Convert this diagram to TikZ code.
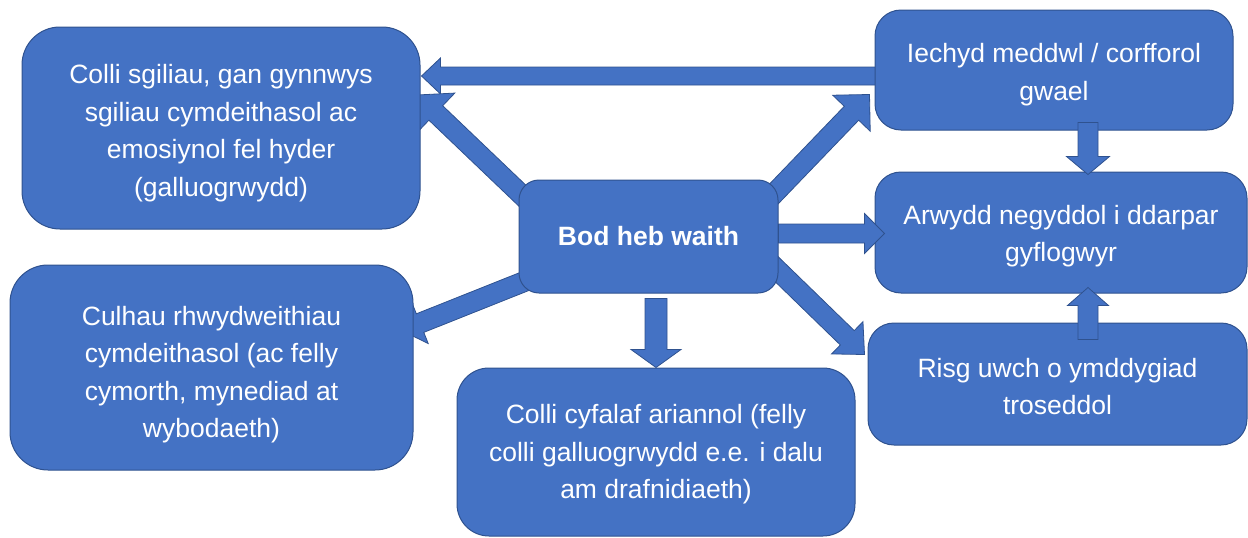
\documentclass[tikz,border=0pt]{standalone}
\usepackage{fontspec}
\setmainfont{Liberation Sans}
\usetikzlibrary{calc}

\definecolor{boxblue}{HTML}{4472C4}
\definecolor{boxedge}{HTML}{2F528F}

\pgfdeclarelayer{bg}
\pgfsetlayers{bg,main}

\tikzset{
  box/.style={draw=boxedge, line width=1pt, fill=boxblue, rounded corners=#1,
    text=white, align=center, inner sep=0pt,
    font=\fontsize{26.5}{37.5}\selectfont},
  box/.default=38pt,
  blockarrow/.style={draw=boxedge, line width=0.8pt, fill=boxblue, line join=miter}
}

% strut on the first line, pushes the text down
\newcommand{\dn}[1]{\rule{0pt}{#1pt}}

% block arrow: from, to, shaft, head width, head length
\newcommand{\bigarrow}[5]{%
  \pgfmathsetmacro{\hs}{#3/2}
  \pgfmathsetmacro{\hw}{#4/2}
  \path ($(#2)!#5pt!(#1)$) coordinate (hb);
  \draw[blockarrow] ($(#1)!\hs pt!90:(#2)$) -- ($(hb)!\hs pt!90:(#2)$)
    -- ($(hb)!\hw pt!90:(#2)$) -- (#2) -- ($(hb)!\hw pt!-90:(#2)$)
    -- ($(hb)!\hs pt!-90:(#2)$) -- ($(#1)!\hs pt!-90:(#2)$) -- cycle;
}

\begin{document}
\begin{tikzpicture}[x=1pt,y=-1pt]
    \useasboundingbox (0,0) rectangle (1248,538);

    \node[box, minimum width=398pt, minimum height=202pt] (sk) at (221,128)
      {\dn{29.5}Colli sgiliau, gan gynnwys\\sgiliau cymdeithasol ac\\emosiynol fel hyder\\(galluogrwydd)};
    \node[box, minimum width=403pt, minimum height=205pt] (cu) at (211.5,367.5)
      {\dn{33.5}Culhau rhwydweithiau\\cymdeithasol (ac felly\\cymorth, mynediad at\\wybodaeth)};
    \node[box=32pt, minimum width=398pt, minimum height=168pt] (cf) at (656,452)
      {\dn{23.5}Colli cyfalaf ariannol (felly\\colli galluogrwydd e.e. i dalu\\am drafnidiaeth)};
    \node[box=20pt, minimum width=259pt, minimum height=113pt] (ctr) at (648.5,236.5)
      {\bfseries Bod heb waith};
    \node[box=26pt, minimum width=358pt, minimum height=120pt] (ie) at (1054,70)
      {\dn{28.5}Iechyd meddwl / corfforol\\gwael};
    \node[box=26pt, minimum width=372pt, minimum height=121pt] (ar) at (1061,232.5)
      {\dn{26.5}Arwydd negyddol i ddarpar\\gyflogwyr};
    \node[box=26pt, minimum width=379pt, minimum height=122pt] (ri) at (1057.5,384)
      {\dn{24.5}Risg uwch o ymddygiad\\troseddol};

    % arrows behind the boxes
    \begin{pgfonlayer}{bg}
    \path ($(ie.west)+(5,6)$) coordinate (ie-tail) ($(sk.east |- ie.west)+(1,6)$) coordinate (sk-tip);
    \bigarrow{ie-tail}{sk-tip}{18}{36}{19}
    \path ($(ctr.north west)+(10,22)$) coordinate (c1) (417,95) coordinate (sk-in);
    \bigarrow{c1}{sk-in}{20}{55}{26}
    \path ($(ctr.north east)+(-10,20)$) coordinate (c2) ($(ie.south west)+(-5,-36)$) coordinate (ie-in);
    \bigarrow{c2}{ie-in}{20}{52}{26}
    \path ($(ctr.south east)+(-18,-40)$) coordinate (c3) ($(ri.north west)+(-3,32)$) coordinate (ri-in);
    \bigarrow{c3}{ri-in}{20}{45}{24}
    \path ($(ctr.south west)+(36,-24)$) coordinate (c4) ($(cu.east)+(-12,-37)$) coordinate (cu-in);
    \bigarrow{c4}{cu-in}{20}{44}{20}
    \path ($(ctr.south -| cf.north)+(0,5)$) coordinate (c5);
    \bigarrow{c5}{cf.north}{22}{50}{18}
    \end{pgfonlayer}

    % arrows on top
    \path ($(ctr.east)+(0,-3)$) coordinate (c6) ($(ar.west |- ctr.east)+(10,-3)$) coordinate (ar-in);
    \bigarrow{c6}{ar-in}{19}{40}{20}
    \path ($(ie.south)+(34,-8)$) coordinate (ie-out) ($(ar.north)+(27,3)$) coordinate (ar-top);
    \bigarrow{ie-out}{ar-top}{20}{43}{18}
    \path ($(ri.north)+(30.5,17)$) coordinate (ri-out) ($(ar.south)+(27,-6)$) coordinate (ar-bot);
    \bigarrow{ri-out}{ar-bot}{20}{41}{18}

\end{tikzpicture}
\end{document}
